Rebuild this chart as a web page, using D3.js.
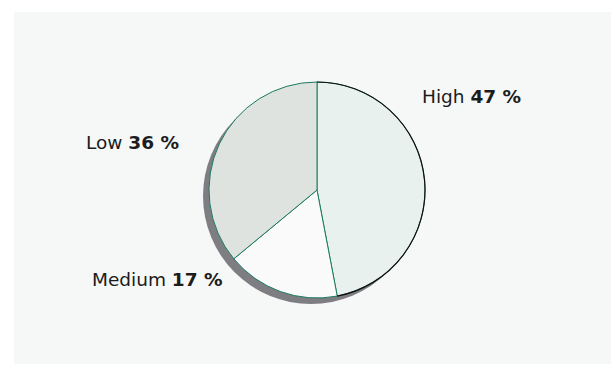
<!DOCTYPE html>
<html>
<head>
<meta charset="utf-8">
<script src="https://cdn.jsdelivr.net/npm/d3@7"></script>
<style>
  body { margin: 0; background: #fff; }
  text { font-family: "DejaVu Sans", sans-serif; font-size: 18.5px; fill: #1c1c1c; }
</style>
</head>
<body>
<div id="app"></div>
<script>
const categories = ['High', 'Medium', 'Low']
const shares = [47, 17, 36]
const fills = ['#e8f1ee', '#f9faf9', '#dee3df']

// where each label sits, relative to the pie centre
const labelOffset = [[105, -87], [-225, 96], [-231, -41]]

const size = { width: 613, height: 369 }
const center = { x: 317, y: 190 }
const radius = 108

const svg = d3.select('#app').append('svg')
  .attr('width', size.width)
  .attr('height', size.height)

svg.append('rect')
  .attr('x', 14).attr('y', 12)
  .attr('width', 597).attr('height', 352)
  .attr('fill', '#f6f8f7')

const g = svg.append('g').attr('transform', `translate(${center.x},${center.y})`)

const data = categories.map((c, i) => ({ name: c, value: shares[i], fill: fills[i] }))
const pie = d3.pie().value(d => d.value).sort(null)
const arcs = pie(data)
const arc = d3.arc().innerRadius(0).outerRadius(radius)
const rim = d3.arc().innerRadius(radius).outerRadius(radius)

// drop shadow
g.append('circle')
  .attr('cx', -6).attr('cy', 6)
  .attr('r', radius)
  .attr('fill', '#7e7e82')

g.selectAll('path.slice')
  .data(arcs)
  .enter()
  .append('path')
  .attr('class', 'slice')
  .attr('d', arc)
  .attr('fill', d => d.data.fill)
  .attr('stroke', '#1b7a60')
  .attr('stroke-width', 1)

// the big slice has a dark rim
g.append('path')
  .attr('d', rim(arcs[0]))
  .attr('fill', 'none')
  .attr('stroke', '#111')
  .attr('stroke-width', 1.2)

const labels = g.selectAll('text')
  .data(arcs)
  .enter()
  .append('text')
  .attr('x', (d, i) => labelOffset[i][0])
  .attr('y', (d, i) => labelOffset[i][1])

labels.append('tspan').text(d => d.data.name + ' ')
labels.append('tspan').attr('font-weight', 'bold').text(d => d.data.value + ' %')
</script>
</body>
</html>
